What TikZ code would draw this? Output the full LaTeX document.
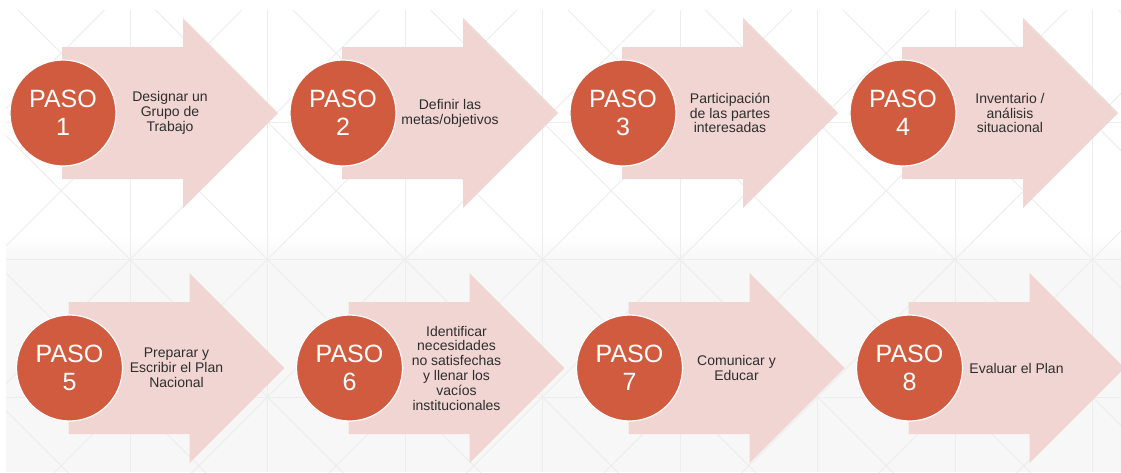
\documentclass[tikz,border=0pt]{standalone}
\usepackage{fontspec}
\setmainfont{Liberation Sans}
\definecolor{circ}{HTML}{D05B3F}
\definecolor{arr}{HTML}{F0D5D2}
\definecolor{txt}{HTML}{2E2E2E}
\definecolor{gridc}{HTML}{EDEDED}
\definecolor{bgg}{HTML}{F7F7F7}
\tikzset{
  pasocircle/.style={circle, fill=circ, draw=white, line width=1.2pt, minimum size=106pt, inner sep=0pt,
    text=white, align=center, font=\fontsize{25}{28}\selectfont},
  desc/.style={text=txt, align=center, inner sep=0pt, font=\fontsize{14}{14.8}\selectfont},
  arrowshape/.style={fill=arr},
  gridline/.style={draw=gridc, line width=0.8pt}
}
\newcommand\pasoitem[5]{%
  \fill[arrowshape] (#1-1,#2-66) -- (#1+120,#2-66) -- (#1+120,#2-95) -- (#1+215,#2)
     -- (#1+120,#2+95) -- (#1+120,#2+66) -- (#1-1,#2+66) -- cycle;
  \node[pasocircle] (c#3) at (#1,#2) {PASO\\#4};
  \node[desc] (d#3) at (#1+107,#2) {#5};
}
\begin{document}
\begin{tikzpicture}[x=1pt,y=-1pt]
\useasboundingbox (0,0) rectangle (1121,472);
\clip (0,0) rectangle (1121,472);
\fill[white] (0,0) rectangle (1121,472);
% background
\begin{scope}
  \clip (6,10) rectangle (1121,472);
  \shade[top color=white, bottom color=bgg] (6,235) rectangle (1121,262);
  \fill[bgg] (6,262) rectangle (1121,472);
  \foreach \k in {-1,...,7} {
    \pgfmathsetmacro\xa{130+137.5*\k}
    \pgfmathsetmacro\xb{\xa+137.5}
    \draw[gridline] (\xa,0) -- (\xa,472);
    \foreach \j in {0,...,3} {
      \pgfmathsetmacro\ya{-15.5+137.5*\j}
      \pgfmathsetmacro\yb{\ya+137.5}
      \draw[gridline] (\xa,\ya) -- (\xb,\yb);
      \draw[gridline] (\xb,\ya) -- (\xa,\yb);
    }
  }
  \foreach \y in {122,259.5,397} \draw[gridline] (0,\y) -- (1121,\y);
\end{scope}
% steps
\pasoitem{63}{113}{1}{1}{Designar un\\Grupo de\\Trabajo}
\pasoitem{343}{113}{2}{2}{Definir las\\metas/objetivos}
\pasoitem{623}{113}{3}{3}{Participación\\de las partes\\interesadas}
\pasoitem{903}{113}{4}{4}{Inventario /\\análisis\\situacional}
\pasoitem{69.5}{368}{5}{5}{Preparar y\\Escribir el Plan\\Nacional}
\pasoitem{349.5}{368}{6}{6}{Identificar\\necesidades\\no satisfechas\\y llenar los\\vacíos\\institucionales}
\pasoitem{629.5}{368}{7}{7}{Comunicar y\\Educar}
\pasoitem{909.5}{368}{8}{8}{Evaluar el Plan}
\end{tikzpicture}
\end{document}
